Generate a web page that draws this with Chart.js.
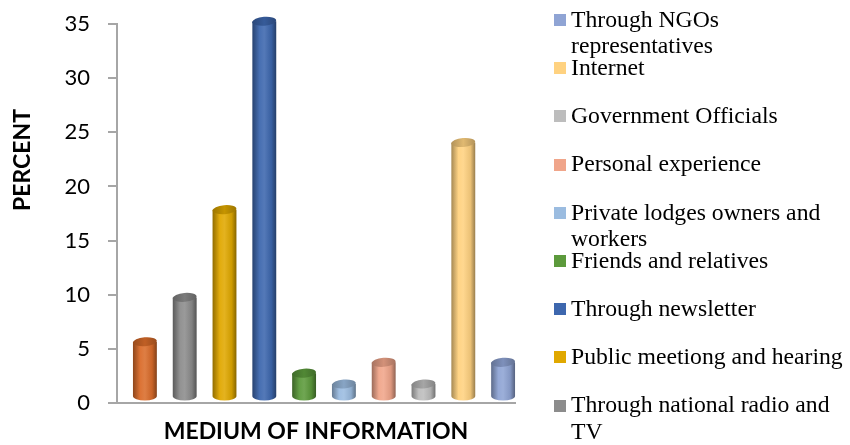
<!DOCTYPE html>
<html lang="en">
<head>
<meta charset="UTF-8">
<title>Medium of information</title>
<style>
    html, body {
        margin: 0;
        padding: 0;
        width: 850px;
        height: 445px;
        overflow: hidden;
        background: #fff;
    }
    #wrap {
        position: relative;
        width: 850px;
        height: 445px;
    }
    #chart {
        position: absolute;
        left: 0;
        top: 0;
    }
    .legend-item {
        position: absolute;
        left: 554px;
        font-family: 'Liberation Serif', 'Times New Roman', serif;
        font-size: 23.7px;
        line-height: 26.7px;
        color: #000;
        white-space: nowrap;
    }
    .legend-box {
        position: absolute;
        left: 0;
        top: 8.3px;
        width: 12px;
        height: 12px;
    }
    .legend-text {
        margin-left: 17px;
    }
</style>
<script src="https://cdn.jsdelivr.net/npm/chart.js"></script>
</head>
<body>
<div id="wrap">
    <canvas id="chart" width="850" height="445"></canvas>
    <div id="legend"></div>
</div>
<script>
    // categories in bar order (left to right); the first one is cut off in the legend
    const categories = [
        'Others',
        ['Through national radio and', 'TV'],
        'Public meetiong and hearing',
        'Through newsletter',
        'Friends and relatives',
        ['Private lodges owners and', 'workers'],
        'Personal experience',
        'Government Officials',
        'Internet',
        ['Through NGOs', 'representatives']
    ];
    const percentValues = [5.1, 9.2, 17.3, 34.7, 2.2, 1.2, 3.2, 1.2, 23.5, 3.2];
    const barColors = ['#DA6C2A', '#8C8C8C', '#E0A800', '#3D67AE', '#5C9A3C',
                       '#9BBCE0', '#F0A58A', '#BDBDBD', '#FFD280', '#8FA4D4'];
    const yMin = 0, yMax = 35, yStep = 5;
    const yTitle = 'PERCENT';
    const xTitle = 'MEDIUM OF INFORMATION';

    function shade(hex, f) {
        const n = parseInt(hex.slice(1), 16);
        let r = n >> 16, g = (n >> 8) & 255, b = n & 255;
        const t = f < 0 ? 0 : 255, p = Math.abs(f);
        r = Math.round(r + (t - r) * p);
        g = Math.round(g + (t - g) * p);
        b = Math.round(b + (t - b) * p);
        return `rgb(${r},${g},${b})`;
    }

    // draws each bar as a cylinder, from the bar elements chart.js laid out
    const cylinders = {
        id: 'cylinders',
        beforeDatasetsDraw(chart) {
            const ctx = chart.ctx;
            const meta = chart.getDatasetMeta(0);
            meta.data.forEach((bar, i) => {
                const c = barColors[i];
                const rx = bar.width / 2, ry = 4.5;
                const cx = bar.x + 8;
                const top = bar.y - 6, bottom = bar.base - 6;

                const body = ctx.createLinearGradient(cx - rx, 0, cx + rx, 0);
                body.addColorStop(0, shade(c, -0.35));
                body.addColorStop(0.3, shade(c, 0.05));
                body.addColorStop(0.5, shade(c, 0.12));
                body.addColorStop(0.8, shade(c, -0.08));
                body.addColorStop(1, shade(c, -0.4));

                ctx.save();
                ctx.beginPath();
                ctx.moveTo(cx - rx, top);
                ctx.lineTo(cx - rx, bottom);
                ctx.ellipse(cx, bottom, rx, ry, 0, Math.PI, 0, true);
                ctx.lineTo(cx + rx, top);
                ctx.closePath();
                ctx.fillStyle = body;
                ctx.fill();

                const cap = ctx.createLinearGradient(cx - rx, 0, cx + rx, 0);
                cap.addColorStop(0, shade(c, -0.3));
                cap.addColorStop(0.5, shade(c, -0.12));
                cap.addColorStop(1, shade(c, -0.3));
                ctx.beginPath();
                ctx.ellipse(cx, top, rx, ry, -0.08, 0, Math.PI * 2);
                ctx.fillStyle = cap;
                ctx.fill();
                ctx.restore();
            });
            return false;
        }
    };

    const yAxisTitle = {
        id: 'yAxisTitle',
        afterDraw(chart) {
            const ctx = chart.ctx;
            ctx.save();
            ctx.translate(23, 160);
            ctx.rotate(-Math.PI / 2);
            ctx.font = 'bold 23px Lato';
            ctx.fillStyle = '#000';
            ctx.textAlign = 'center';
            ctx.textBaseline = 'middle';
            ctx.fillText(yTitle, 0, 0);
            ctx.restore();
        }
    };

    const axisGray = '#A6A6A6';

    new Chart(document.getElementById('chart'), {
        type: 'bar',
        data: {
            labels: categories,
            datasets: [{
                label: 'Percent',
                data: percentValues,
                backgroundColor: barColors,
                borderWidth: 0,
                barPercentage: 1,
                categoryPercentage: 0.6
            }]
        },
        options: {
            responsive: false,
            animation: false,
            layout: { padding: { top: 24, right: 335, left: 0, bottom: 0 } },
            plugins: {
                legend: { display: false },
                tooltip: { enabled: false }
            },
            scales: {
                x: {
                    grid: { display: false },
                    border: { display: true, color: axisGray, width: 2 },
                    ticks: { display: false },
                    title: {
                        display: true,
                        text: xTitle,
                        color: '#000',
                        padding: 0,
                        font: { family: 'Lato', size: 23, weight: 'bold' }
                    },
                    afterFit(s) { s.height = 42; }
                },
                y: {
                    min: yMin,
                    max: yMax,
                    ticks: {
                        stepSize: yStep,
                        padding: 18,
                        color: '#000',
                        font: { family: 'Lato', size: 22 }
                    },
                    grid: {
                        drawOnChartArea: false,
                        drawTicks: true,
                        tickLength: 9,
                        color: axisGray,
                        lineWidth: 2
                    },
                    border: { display: true, color: axisGray, width: 2 },
                    afterFit(s) {
                        s.width = 117;
                        s.paddingTop = 0;
                        s.paddingBottom = 0;
                    }
                }
            }
        },
        plugins: [cylinders, yAxisTitle]
    });

    // legend, listed in reverse order like the original
    const legend = document.getElementById('legend');
    categories.slice().reverse().forEach((cat, i) => {
        const color = barColors[categories.length - 1 - i];
        const item = document.createElement('div');
        item.className = 'legend-item';
        item.style.top = (5.7 + i * 48.2) + 'px';
        const text = Array.isArray(cat) ? cat.join('<br>') : cat;
        item.innerHTML = `<span class="legend-box" style="background:${color}"></span><div class="legend-text">${text}</div>`;
        legend.appendChild(item);
    });
</script>
</body>
</html>
